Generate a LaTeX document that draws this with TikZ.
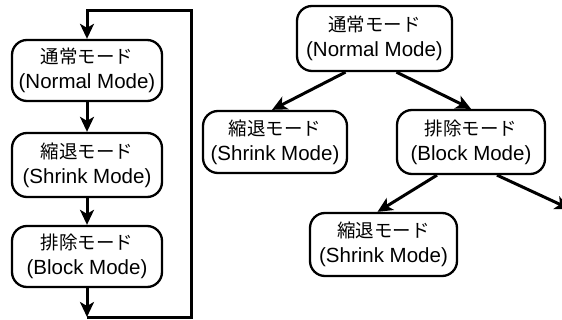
\documentclass[tikz,border=0pt]{standalone}
\usepackage{fontspec}
\setmainfont{Liberation Sans}
\newfontfamily\jpfont{Noto Sans CJK JP}
\usetikzlibrary{arrows.meta}
\tikzset{
 modebox/.style={draw, line width=2.3pt, rounded corners=15pt, inner sep=0pt, align=center, font=\fontsize{20.5}{25}\selectfont},
 flow/.style={line width=3pt, line join=miter, -{Stealth[length=15pt,width=14pt,inset=4pt]}},
}
\newcommand\modetext[2]{{\jpfont\fontsize{18.5}{25}\selectfont #1}\\#2}
\begin{document}
\begin{tikzpicture}[x=1pt,y=-1pt]
\useasboundingbox (0,0) rectangle (562,320);
% left column
\node[modebox, minimum width=150pt, minimum height=61pt] (L1) at (87,70.5) {\modetext{通常モード}{(Normal Mode)}};
\node[modebox, minimum width=150pt, minimum height=64pt] (L2) at (87,165) {\modetext{縮退モード}{(Shrink Mode)}};
\node[modebox, minimum width=150pt, minimum height=61pt] (L3) at (87,256.5) {\modetext{排除モード}{(Block Mode)}};
\coordinate (c1) at (87,317);
\coordinate (c2) at (191,317);
\coordinate (c3) at (191,11);
\coordinate (c4) at (87,11);
\draw[flow] (L1.south) -- (L2.north);
\draw[flow] (L2.south) -- (L3.north);
\draw[flow] (L3.south) -- (c1);
\draw[flow] (c1) -- (c2) -- (c3) -- (c4) -- (L1.north);
% right tree
\node[modebox, minimum width=155pt, minimum height=65pt] (R1) at (374.5,38.5) {\modetext{通常モード}{(Normal Mode)}};
\node[modebox, minimum width=144pt, minimum height=62pt] (R2) at (275,142) {\modetext{縮退モード}{(Shrink Mode)}};
\node[modebox, minimum width=148pt, minimum height=64pt] (R3) at (471,142) {\modetext{排除モード}{(Block Mode)}};
\node[modebox, minimum width=147pt, minimum height=63pt] (R4) at (383.5,244.5) {\modetext{縮退モード}{(Shrink Mode)}};
\coordinate (off) at (570,209);
\draw[flow] ([xshift=-29pt]R1.south) -- ([xshift=-3pt]R2.north);
\draw[flow] ([xshift=22pt]R1.south) -- (R3.north);
\draw[flow] ([xshift=-34pt]R3.south) -- ([xshift=-6pt]R4.north);
\draw[flow] ([xshift=26pt]R3.south) -- (off);
\end{tikzpicture}
\end{document}
